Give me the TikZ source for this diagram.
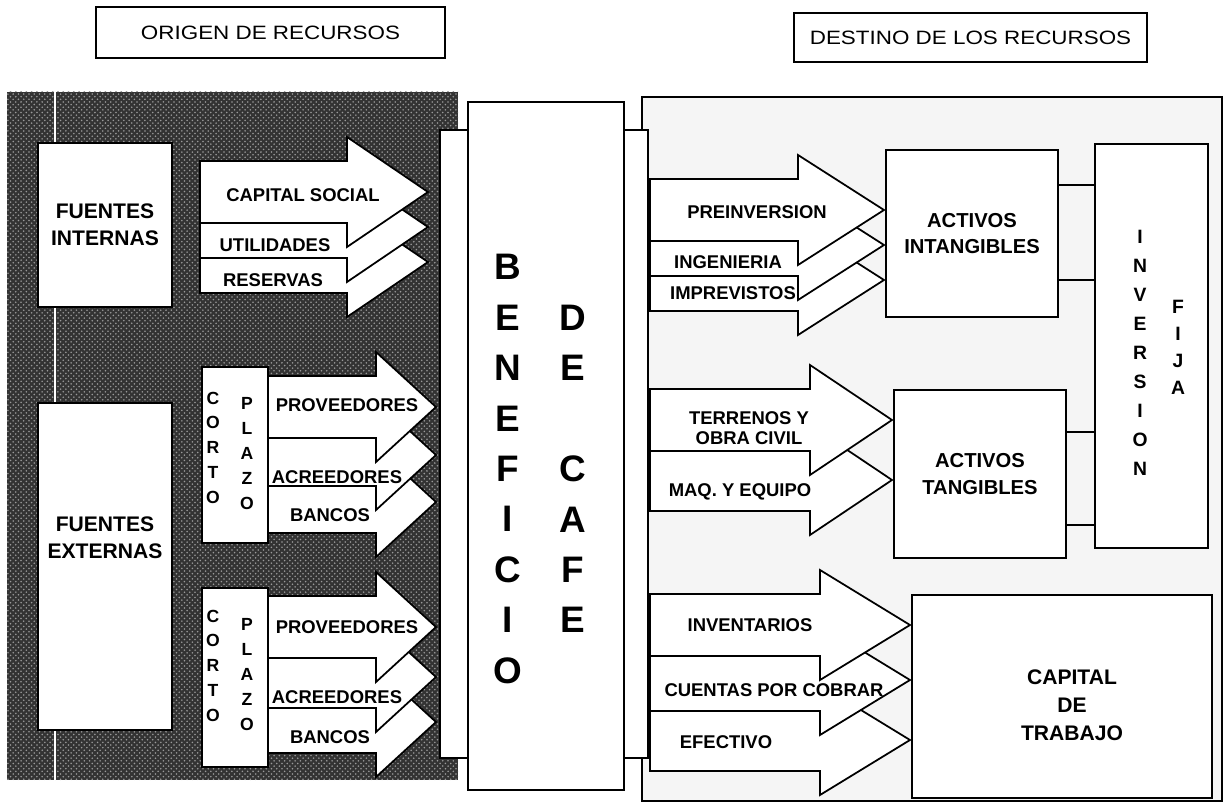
\documentclass[tikz,border=0pt]{standalone}
\usepackage{fontspec}
\setmainfont{Liberation Sans}
\usetikzlibrary{patterns}

\newcommand{\flecha}[4]{\draw[flecha] (#1,{#4-31}) -- (#2,{#4-31}) -- (#2,{#4-55}) -- (#3,#4)
  -- (#2,{#4+55}) -- (#2,{#4+31}) -- (#1,{#4+31}) -- cycle;}

\begin{document}
\begin{tikzpicture}[x=0.02cm,y=-0.02cm,line width=1pt,
    caja/.style={draw,fill=white,inner sep=0pt,align=center,font=\bfseries\fontsize{12}{15.3}\selectfont},
    titulo/.style={draw,fill=white,inner sep=0pt,font=\fontsize{11}{13}\selectfont},
    flecha/.style={draw,fill=white,line join=miter},
    txt/.style={inner sep=0pt,align=center,font=\bfseries\fontsize{10.5}{11.5}\selectfont},
    vert/.style={inner sep=0pt,align=center,font=\bfseries\fontsize{10}{14.1}\selectfont},
    grande/.style={inner sep=0pt,align=center,font=\bfseries\fontsize{21}{28.7}\selectfont}]
    \useasboundingbox (0,0) rectangle (1226,803);

    \node[titulo,minimum width=6.98cm,minimum height=1.02cm] (origen) at (270.5,32.5) {\scalebox{1.16}[1]{ORIGEN DE RECURSOS}};
    \node[titulo,minimum width=7.06cm,minimum height=0.98cm] (destino) at (970.5,37.5) {\scalebox{1.16}[1]{DESTINO DE LOS RECURSOS}};

    % fondos
    \fill[black!80,postaction={pattern=crosshatch dots,pattern color=black!40}] (7,92) rectangle (458,780);
    \draw[white,line width=1.5pt] (55,92) -- (55,780);
    \draw[fill=black!4,line width=0.8pt] (642,97) rectangle (1222,801);

    % origen
    \node[caja,minimum width=2.68cm,minimum height=3.28cm] (fint) at (105,225) {FUENTES\\INTERNAS};
    \node[caja,minimum width=2.68cm,minimum height=6.54cm] (fext) at (105,566.5) {};
    \node[caja,draw=none] (fexttxt) at (105,538) {FUENTES\\EXTERNAS};
    \foreach \yy in {262,227,192} {\flecha{200}{347}{428}{\yy}}
    \node[txt] (capsoc) at (303,195) {CAPITAL SOCIAL};
    \node[txt] (util) at (275,245) {UTILIDADES};
    \node[txt] (reserv) at (273,280) {RESERVAS};

    \node[caja,minimum width=1.32cm,minimum height=3.52cm] (corto1) at (235,455) {};
    \node[vert] (c1) at (213,447.5) {C\\O\\R\\T\\O};
    \node[vert] (p1) at (247,453.5) {P\\L\\A\\Z\\O};
    \foreach \yy in {502,455,407} {\flecha{268}{376}{436}{\yy}}
    \node[txt] (prov1) at (347,405) {PROVEEDORES};
    \node[txt] (acre1) at (337,477) {ACREEDORES};
    \node[txt] (banc1) at (330,515) {BANCOS};

    \node[caja,minimum width=1.32cm,minimum height=3.58cm] (corto2) at (235,677.5) {};
    \node[vert] (c2) at (213,665.5) {C\\O\\R\\T\\O};
    \node[vert] (p2) at (247,674.5) {P\\L\\A\\Z\\O};
    \foreach \yy in {722,677,627} {\flecha{268}{376}{436}{\yy}}
    \node[txt] (prov2) at (347,627) {PROVEEDORES};
    \node[txt] (acre2) at (337,697) {ACREEDORES};
    \node[txt] (banc2) at (330,737) {BANCOS};

    % beneficio
    \node[draw,fill=white,minimum width=0.56cm,minimum height=12.56cm] (tirai) at (454,444) {};
    \node[draw,fill=white,minimum width=0.48cm,minimum height=12.56cm] (tirad) at (636,444) {};
    \node[draw,fill=white,minimum width=3.12cm,minimum height=13.76cm] (benef) at (546,446) {};
    \node[grande] (benef1) at (508,469) {B\\E\\N\\E\\F\\I\\C\\I\\O};
    \node[grande] (benef2) at (573,469) {D\\E\\~\\C\\A\\F\\E};

    % destino
    \foreach \yy in {280,245,210} {\flecha{650}{798}{884}{\yy}}
    \node[txt] (preinv) at (757,212) {PREINVERSION};
    \node[txt] (ingen) at (728,262) {INGENIERIA};
    \node[txt] (impre) at (733,293) {IMPREVISTOS};
    \node[caja,font=\bfseries\fontsize{11.5}{15.3}\selectfont,minimum width=3.44cm,minimum height=3.34cm] (intang) at (972,233.5) {ACTIVOS\\INTANGIBLES};

    \foreach \yy in {480,420} {\flecha{650}{810}{892}{\yy}}
    \node[txt] (terr) at (749,428) {TERRENOS Y\\OBRA CIVIL};
    \node[txt] (maq) at (740,492) {MAQ. Y EQUIPO};
    \node[caja,font=\bfseries\fontsize{11.5}{15.3}\selectfont,minimum width=3.44cm,minimum height=3.36cm] (tang) at (980,474) {ACTIVOS\\TANGIBLES};

    \foreach \yy in {740,680,625} {\flecha{650}{820}{910}{\yy}}
    \node[txt] (invent) at (750,625) {INVENTARIOS};
    \node[txt] (cuentas) at (774,690) {CUENTAS POR COBRAR};
    \node[txt] (efect) at (726,742) {EFECTIVO};
    \node[caja,minimum width=6cm,minimum height=4.06cm] (captrab) at (1062,696.5) {};
    \node[caja,draw=none,fill=none,font=\bfseries\fontsize{12}{16}\selectfont] (captrabtxt) at (1072,705) {CAPITAL\\DE\\TRABAJO};

    \node[draw,fill=white,minimum width=2.26cm,minimum height=8.08cm] (inv) at (1151.5,346) {};
    \node[vert,font=\bfseries\fontsize{11}{16.5}\selectfont] (inv1) at (1140,353) {I\\N\\V\\E\\R\\S\\I\\O\\N};
    \node[vert,font=\bfseries\fontsize{11}{15.4}\selectfont] (inv2) at (1178,347.5) {F\\I\\J\\A};
    \draw (intang.east |- 0,185) -- (inv.west |- 0,185);
    \draw (intang.east |- 0,280) -- (inv.west |- 0,280);
    \draw (tang.east |- 0,432) -- (inv.west |- 0,432);
    \draw (tang.east |- 0,525) -- (inv.west |- 0,525);
\end{tikzpicture}
\end{document}
